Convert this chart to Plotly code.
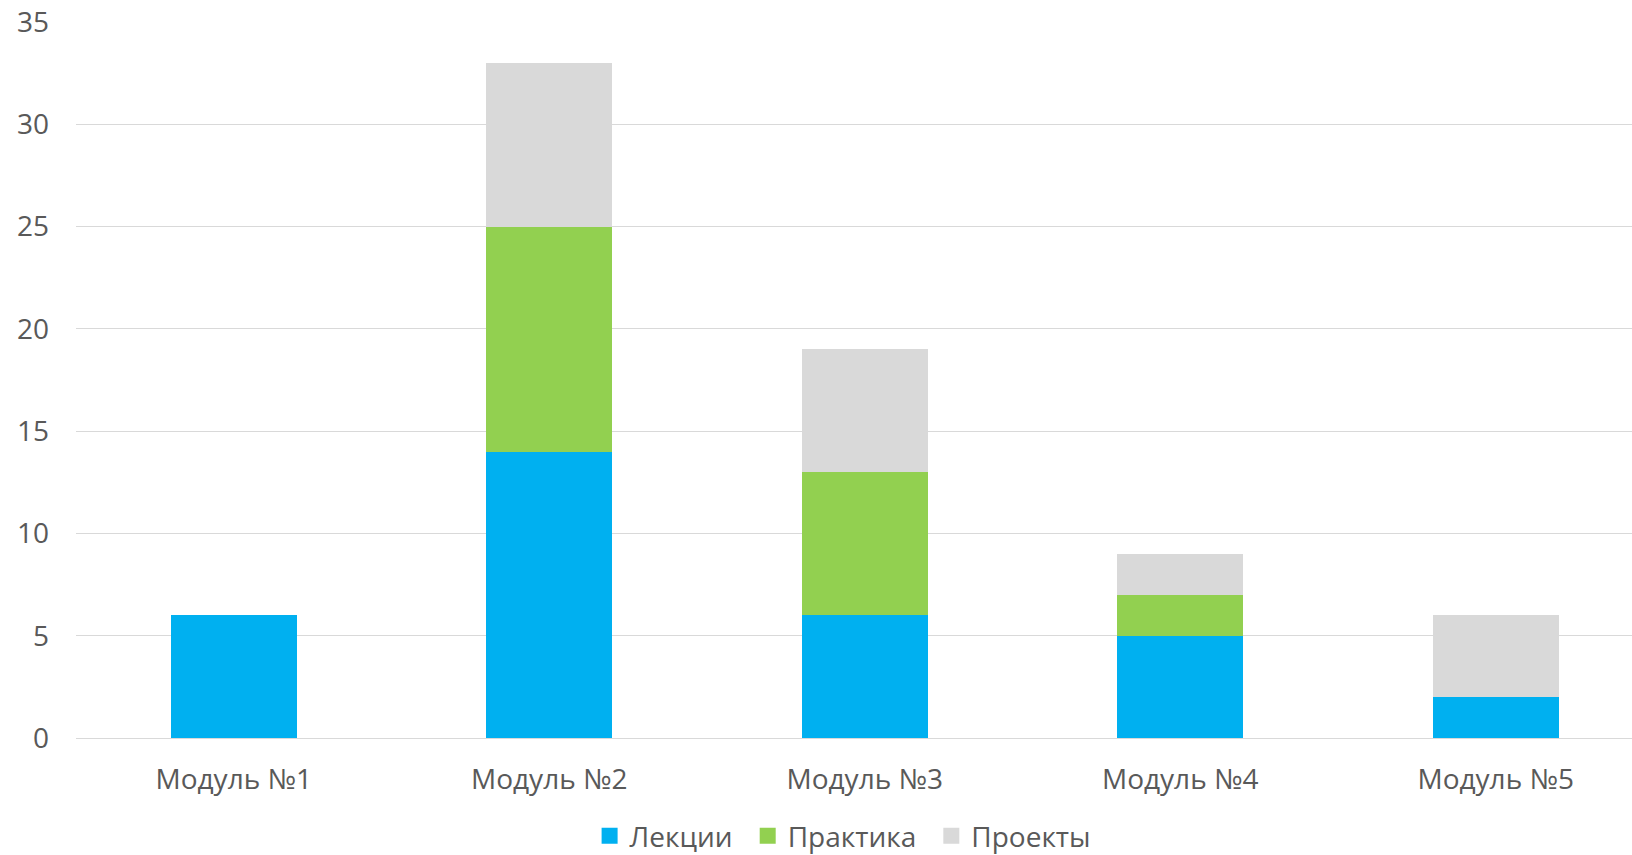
import plotly.graph_objects as go

categories = ["Модуль №1", "Модуль №2", "Модуль №3", "Модуль №4", "Модуль №5"]
lectures = [6, 14, 6, 5, 2]
practice = [0, 11, 7, 2, 0]
projects = [0, 8, 6, 2, 4]
series_names = ["Лекции", "Практика", "Проекты"]
colors = ["#00B0F0", "#92D050", "#D9D9D9"]
y_ticks = [0, 5, 10, 15, 20, 25, 30, 35]

FONT = "Open Sans, sans-serif"
TXT = "#595959"
FS = 28
PAD = "\u00a0\u200a"  # extra spacing after legend entries

fig = go.Figure()
n = len(series_names)
for i, (name, vals, col) in enumerate(zip(series_names, [lectures, practice, projects], colors)):
    fig.add_trace(go.Bar(x=categories, y=vals, name=name, marker=dict(color=col, line=dict(width=0)),
                         showlegend=False))
    fig.add_trace(go.Scatter(x=[None], y=[None], mode="markers",
                             name=name + (PAD if i < n - 1 else ""),
                             marker=dict(symbol="square", size=18, color=col), showlegend=True))

fig.update_layout(
    width=1632, height=855,
    barmode="stack", bargap=0.6,
    paper_bgcolor="white", plot_bgcolor="white",
    margin=dict(l=76, r=0, t=22, b=117),
    font=dict(family=FONT, size=FS, color=TXT),
    legend=dict(orientation="h", x=0.5163, xanchor="center", xref="container",
                y=1 - 811 / 855, yanchor="top", yref="container", traceorder="normal",
                font=dict(family=FONT, size=FS, color=TXT), itemsizing="trace"),
    xaxis=dict(range=[-0.5, 4.432], showgrid=False, showline=False, ticks="", automargin=False,
               tickfont=dict(family=FONT, size=FS, color=TXT), ticklabelstandoff=22),
    yaxis=dict(range=[0, 35], tickvals=y_ticks, showgrid=True, gridcolor="#D9D9D9", gridwidth=1.3,
               zeroline=True, zerolinecolor="#D9D9D9", zerolinewidth=1.3, showline=False, automargin=False,
               tickfont=dict(family=FONT, size=FS, color=TXT), ticklabelstandoff=26),
)

fig.write_html("out.html")
